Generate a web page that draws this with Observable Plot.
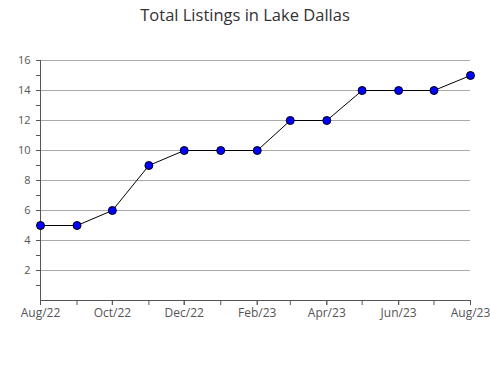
<!DOCTYPE html>
<html><head><meta charset="utf-8">
<script src="https://cdn.jsdelivr.net/npm/d3@7"></script>
<script src="https://cdn.jsdelivr.net/npm/@observablehq/plot@0.6"></script>
<style>
body{margin:0;background:#fff;width:490px;height:380px;overflow:hidden}
#title{width:490px;height:30px;line-height:30px;text-align:center;font-family:"Open Sans",sans-serif;font-size:16.5px;color:#333}
svg{display:block}
</style></head><body>
<div id="title">Total Listings in Lake Dallas</div>
<div id="chart"></div>
<script>
const months = ["2022-08","2022-09","2022-10","2022-11","2022-12","2023-01","2023-02","2023-03","2023-04","2023-05","2023-06","2023-07","2023-08"];
const listings = [5,5,6,9,10,10,10,12,12,14,14,14,15];
const monthNames = ["Jan","Feb","Mar","Apr","May","Jun","Jul","Aug","Sep","Oct","Nov","Dec"];
const yTicks = [2,4,6,8,10,12,14,16];
const yMinor = d3.range(1,17);

const data = months.map((m,i)=>({date:new Date(m+"-01T00:00:00Z"), value:listings[i]}));
const labelDates = data.filter((d,i)=>i%2===0).map(d=>d.date);
const fmt = d => monthNames[d.getUTCMonth()] + "/" + String(d.getUTCFullYear()).slice(2);

const chart = Plot.plot({
  width:490, height:350,
  marginTop:30, marginBottom:80, marginLeft:40, marginRight:20,
  style:{fontFamily:"'Open Sans',sans-serif", fontSize:"11px", color:"#555", background:"#fff"},
  x:{type:"utc", domain:[data[0].date, data[data.length-1].date]},
  y:{domain:[0,16]},
  marks:[
    Plot.ruleY(yTicks,{stroke:"#aaa", strokeOpacity:1}),
    Plot.axisY(yMinor,{tickSize:4, tickFormat:()=>"", stroke:"#555", label:null}),
    Plot.axisY(yTicks,{tickSize:4, tickPadding:6, fill:"#555", stroke:"#555", label:null}),
    Plot.axisX(data.map(d=>d.date),{tickSize:5, tickFormat:()=>"", stroke:"#555", label:null}),
    Plot.axisX(labelDates,{tickSize:5, tickPadding:3, tickFormat:fmt, fill:"#555", stroke:"#555", label:null, fontSize:12}),
    Plot.ruleX([data[0].date],{stroke:"#555"}),
    Plot.ruleY([0],{stroke:"#555"}),
    Plot.line(data,{x:"date", y:"value", stroke:"#000", strokeWidth:1}),
    Plot.dot(data,{x:"date", y:"value", r:4, fill:"#0000ff", stroke:"#000", strokeWidth:1})
  ]
});
document.getElementById("chart").appendChild(chart);
</script>
</body></html>
